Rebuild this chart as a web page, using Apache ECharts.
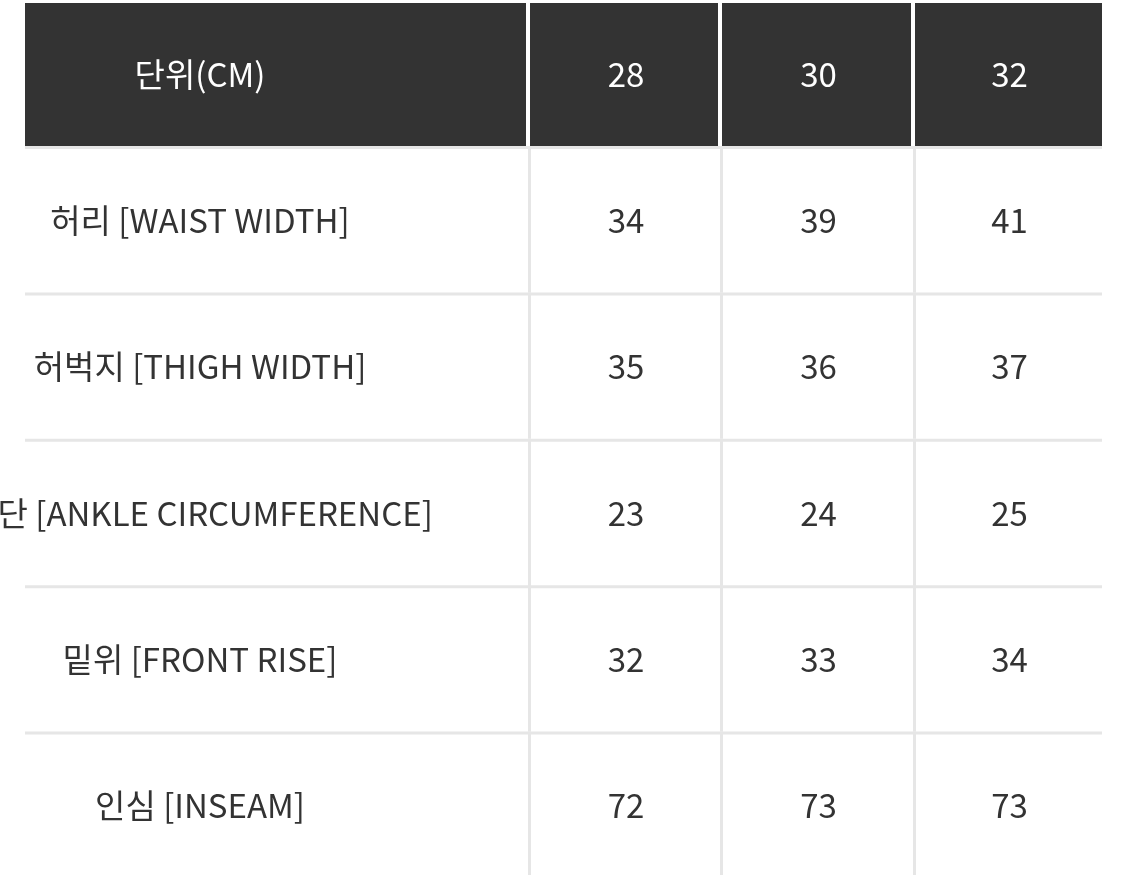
<!DOCTYPE html>
<html><head><meta charset="utf-8">
<script src="https://cdn.jsdelivr.net/npm/echarts@6/dist/echarts.min.js"></script>
<style>html,body{margin:0;padding:0;background:#fff}#c{width:1125px;height:875px}</style>
</head><body><div id="c"></div>
<script>
const headers = ['단위(CM)', '28', '30', '32'];
const rowLabels = ['허리 [WAIST WIDTH]', '허벅지 [THIGH WIDTH]', '밑단 [ANKLE CIRCUMFERENCE]', '밑위 [FRONT RISE]', '인심 [INSEAM]'];
const size28 = [34, 35, 23, 32, 72];
const size30 = [39, 36, 24, 33, 73];
const size32 = [41, 37, 25, 34, 73];

// layout (pixels)
const colEdges = [25, 528, 720, 913, 1102];
const top0 = 3, headerH = 143, rowH = 146.4;

const cells = [];
headers.forEach((h, c) => cells.push([0, c, h]));
const cols = [size28, size30, size32];
rowLabels.forEach((l, r) => {
  cells.push([r + 1, 0, l]);
  cols.forEach((arr, c) => cells.push([r + 1, c + 1, String(arr[r])]));
});

const chart = echarts.init(document.getElementById('c'));
chart.setOption({
  animation: false,
  grid: {left: 0, right: 0, top: 0, bottom: 0},
  xAxis: {type: 'value', min: 0, max: 1125, show: false},
  yAxis: {type: 'value', min: 0, max: 875, inverse: true, show: false},
  series: [{
    type: 'custom',
    clip: true,
    data: cells,
    renderItem: function (params, api) {
      const r = api.value(0), c = api.value(1), txt = cells[params.dataIndex][2];
      const x0 = colEdges[c], x1 = colEdges[c + 1];
      let y0, y1;
      if (r === 0) { y0 = top0; y1 = top0 + headerH; }
      else { y0 = top0 + headerH + (r - 1) * rowH; y1 = y0 + rowH; }
      const p0 = api.coord([x0, y0]), p1 = api.coord([x1, y1]);
      const children = [];
      if (r === 0) {
        children.push({type: 'rect', shape: {x: p0[0] + (c ? 2 : 0), y: p0[1], width: p1[0] - p0[0] - (c ? 2 : 0) - (c < 3 ? 2 : 0), height: p1[1] - p0[1]}, style: {fill: '#333333'}});
      } else {
        children.push({type: 'rect', shape: {x: p0[0], y: p0[1], width: p1[0] - p0[0], height: 3}, style: {fill: '#e6e6e6'}});
        if (c > 0) children.push({type: 'rect', shape: {x: p0[0], y: p0[1], width: 3, height: p1[1] - p0[1]}, style: {fill: '#e6e6e6'}});
      }
      const cx = c === 0 ? api.coord([200, 0])[0] : (p0[0] + p1[0]) / 2 + 2;
      const cy = r === 0 ? (p0[1] + p1[1]) / 2 : (p0[1] + p1[1]) / 2 + 1;
      children.push({type: 'text', x: cx, y: cy, style: {text: txt, fill: r === 0 ? '#ffffff' : '#333333', font: '400 33px "Noto Sans CJK KR", "Noto Sans", sans-serif', align: 'center', verticalAlign: 'middle'}});
      return {type: 'group', children: children};
    }
  }]
});
</script></body></html>
